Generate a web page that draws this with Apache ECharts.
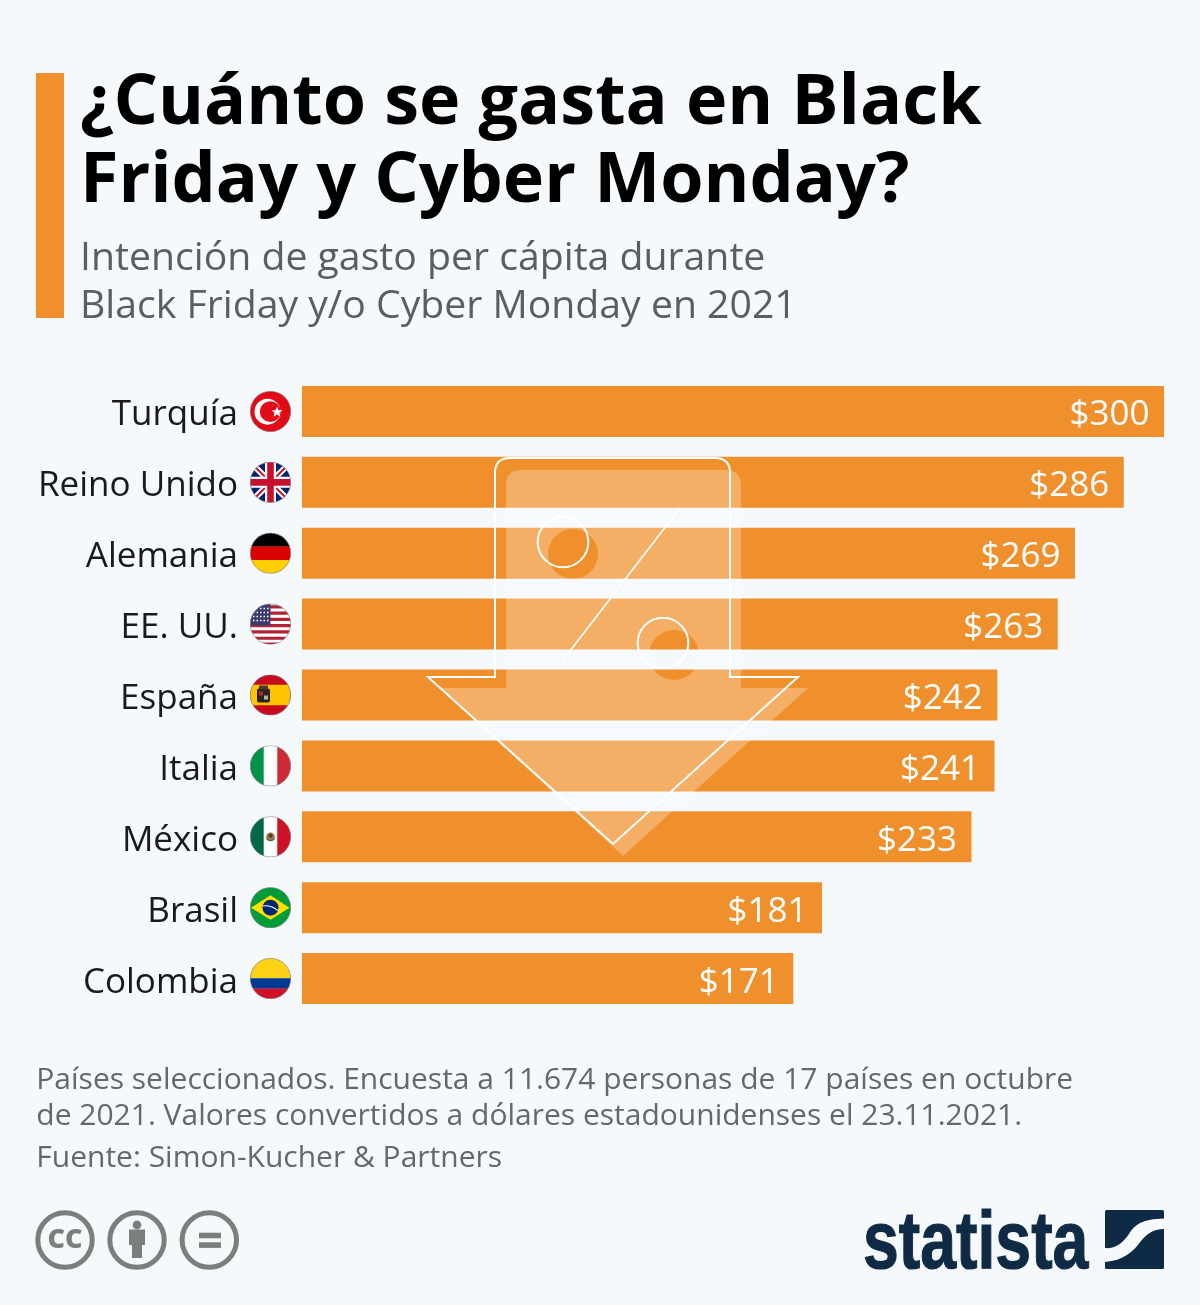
<!DOCTYPE html>
<html>
<head>
<meta charset="utf-8">
<style>
  html, body { margin: 0; padding: 0; background: #f5f9fc; }
  #chart { width: 1200px; height: 1305px; }
</style>
<script src="https://cdn.jsdelivr.net/npm/echarts@6/dist/echarts.min.js"></script>
</head>
<body>
<div id="chart"></div>
<script>
var countries = ['Turquía', 'Reino Unido', 'Alemania', 'EE. UU.', 'España', 'Italia', 'México', 'Brasil', 'Colombia'];
var spend = [300, 286, 269, 263, 242, 241, 233, 181, 171];
var flagKeys = ['tr', 'uk', 'de', 'us', 'es', 'it', 'mx', 'br', 'co'];

var titleText = '¿Cuánto se gasta en Black\nFriday y Cyber Monday?';
var subtitleText = 'Intención de gasto per cápita durante\nBlack Friday y/o Cyber Monday en 2021';
var noteLines = [
  'Países seleccionados. Encuesta a 11.674 personas de 17 países en octubre',
  'de 2021. Valores convertidos a dólares estadounidenses el 23.11.2021.'
];
var sourceText = 'Fuente: Simon-Kucher & Partners';

var ORANGE = '#f0902c';
var BG = '#f5f9fc';
var FONT = '"Open Sans", "Noto Sans", sans-serif';
var GREY = '#7a7f7c';

function svgUrl(w, h, body) {
  var svg = '<svg xmlns="http://www.w3.org/2000/svg" width="' + w * 2 + '" height="' + h * 2 +
    '" viewBox="0 0 ' + w + ' ' + h + '">' + body + '</svg>';
  return 'data:image/svg+xml;charset=utf-8,' + encodeURIComponent(svg);
}

// flags, drawn on a 41x41 box and clipped to a circle
var flagBodies = {
  tr: '<rect width="41" height="41" fill="#e30a17"/><circle cx="17.5" cy="20.7" r="13" fill="#fff"/><circle cx="20.3" cy="20.7" r="10.4" fill="#e30a17"/>' +
      '<polygon fill="#fff" points="27,15.5 28.5,19.2 32.5,19.4 29.4,21.9 30.4,25.8 27,23.6 23.6,25.8 24.6,21.9 21.5,19.4 25.5,19.2"/>',
  uk: '<rect width="41" height="41" fill="#012169"/><path d="M0 0L41 41M41 0L0 41" stroke="#fff" stroke-width="6"/>' +
      '<path d="M0 0L41 41M41 0L0 41" stroke="#c8102e" stroke-width="2"/>' +
      '<path d="M20.5 0V41M0 20.5H41" stroke="#fff" stroke-width="11"/><path d="M20.5 0V41M0 20.5H41" stroke="#c8102e" stroke-width="6.6"/>',
  de: '<rect width="41" height="14" fill="#000"/><rect y="13.7" width="41" height="13.7" fill="#dd0000"/><rect y="27.3" width="41" height="13.7" fill="#ffce00"/>',
  us: '<rect width="41" height="41" fill="#fff"/>' +
      '<path d="M0 3.2H41M0 9.5H41M0 15.8H41M0 22H41M0 28.3H41M0 34.6H41M0 40.5H41" stroke="#b22234" stroke-width="3.15"/>' +
      '<rect width="20.5" height="22" fill="#3c3b6e"/>' +
      '<path d="M3 5H20M3 9H20M3 13H20M3 17H20" stroke="#fff" stroke-width="1.5" stroke-dasharray="1.5 2"/>',
  es: '<rect width="41" height="41" fill="#c60b1e"/><rect y="10.2" width="41" height="20.6" fill="#ffc400"/>' +
      '<rect x="7" y="14" width="13" height="14" rx="2" fill="#2b2320"/><rect x="9" y="11" width="9" height="4" fill="#4a3a28"/>' +
      '<rect x="9" y="17" width="4" height="4" fill="#a8302a"/><rect x="14" y="21" width="4" height="4" fill="#b9b2a0"/>',
  it: '<rect width="14" height="41" fill="#009246"/><rect x="13.7" width="13.7" height="41" fill="#fff"/><rect x="27.3" width="13.7" height="41" fill="#ce2b37"/>',
  mx: '<rect width="14" height="41" fill="#006847"/><rect x="13.7" width="13.7" height="41" fill="#fff"/><rect x="27.3" width="13.7" height="41" fill="#ce1126"/>' +
      '<circle cx="20.5" cy="20.5" r="4.4" fill="#9a7a4a"/><circle cx="20.5" cy="19.5" r="2" fill="#5a3a1c"/><path d="M16.5 22.5Q20.5 26 24.5 22.5" stroke="#3f7a4a" stroke-width="1.2" fill="none"/>',
  br: '<rect width="41" height="41" fill="#009c3b"/><polygon points="20.5,8 39.5,20.5 20.5,32.5 1,20.5" fill="#ffdf00"/>' +
      '<circle cx="20.5" cy="20.5" r="8" fill="#002776"/><path d="M12.8 18.8Q21 17.5 28 23.5" stroke="#fff" stroke-width="1.1" fill="none"/>',
  co: '<rect width="41" height="20.5" fill="#fcd116"/><rect y="20.3" width="41" height="10.4" fill="#003893"/><rect y="30.5" width="41" height="10.5" fill="#ce1126"/>'
};

function flagUrl(key) {
  return svgUrl(41, 41,
    '<defs><clipPath id="c"><circle cx="20.5" cy="20.5" r="20.3"/></clipPath></defs>' +
    '<g clip-path="url(#c)">' + flagBodies[key] + '</g>' +
    '<circle cx="20.5" cy="20.5" r="20.2" fill="none" stroke="#8a8a8a" stroke-width="0.7"/>');
}

var labelRich = { name: { fontFamily: FONT, fontSize: 35, color: '#1a1a1a', padding: [8, 12, 0, 0] } };
flagKeys.forEach(function (k) {
  labelRich[k] = { width: 41, height: 41, backgroundColor: { image: flagUrl(k) } };
});

// arrow with the percent sign, the two dots are holes in the fill
var arrowUrl = svgUrl(400, 410,
  '<path fill="#fff" fill-opacity="0.27" fill-rule="evenodd" d="M101 20H305Q321 20 321 36V238H388L203 406L19 238H86V36Q86 20 101 20Z' +
  'M128 104a25 25 0 1 0 50 0a25 25 0 1 0 -50 0ZM229 205a25 25 0 1 0 50 0a25 25 0 1 0 -50 0Z"/>' +
  '<path fill="none" stroke="#fff" stroke-width="2" d="M90 8H295Q310 8 310 23V227H378L193 394L8 227H75V23Q75 8 90 8Z"/>' +
  '<circle cx="143" cy="92" r="25.3" fill="none" stroke="#fff" stroke-width="2"/>' +
  '<circle cx="243" cy="193" r="25.3" fill="none" stroke="#fff" stroke-width="2"/>' +
  '<path d="M260 58L143 210" stroke="#fff" stroke-width="1.7"/>');

var logoUrl = svgUrl(59, 59,
  '<rect width="59" height="59" rx="1.5" fill="#0f2a44"/>' +
  '<path d="M-1 38C10 39 17 34 24 24C30 14 38 9 60 8.5V19C48 19 42 24 36 31C28 42 18 51 -1 52Z" fill="#f5f9fc"/>');

function noteText(text, y) {
  return {
    type: 'text', x: 36.3, y: y, silent: true,
    style: { text: text, font: '30px ' + FONT, fill: '#62696d', verticalAlign: 'middle' }
  };
}

function ring(cx) {
  return {
    type: 'circle', silent: true,
    shape: { cx: cx, cy: 1240, r: 27.2 },
    style: { fill: 'none', stroke: GREY, lineWidth: 5 }
  };
}

var chart = echarts.init(document.getElementById('chart'));

var option = {
  backgroundColor: BG,
  animation: false,
  title: {
    left: 75, top: 60,
    text: titleText,
    textStyle: { fontFamily: FONT, fontWeight: 700, fontSize: 70, lineHeight: 78, color: '#000' },
    subtext: subtitleText,
    subtextStyle: { fontFamily: FONT, fontSize: 39.2, lineHeight: 48, color: '#585f63' },
    itemGap: 14
  },
  grid: { left: 302, top: 376, width: 862, height: 638 },
  xAxis: { type: 'value', min: 0, max: 300, show: false },
  yAxis: {
    type: 'category',
    inverse: true,
    data: countries,
    axisLine: { show: false },
    axisTick: { show: false },
    axisLabel: {
      margin: 11,
      rich: labelRich,
      formatter: function (value, i) {
        return '{name|' + value + '}{' + flagKeys[i] + '|}';
      }
    }
  },
  series: [{
    type: 'bar',
    data: spend,
    barWidth: 51,
    itemStyle: { color: ORANGE },
    label: {
      show: true,
      position: 'insideRight',
      distance: 14.5,
      offset: [0, 4],
      fontFamily: FONT,
      fontSize: 35,
      color: '#fff',
      formatter: function (p) { return '$' + p.value; }
    }
  }],
  graphic: { elements: [
    { type: 'rect', silent: true, shape: { x: 36, y: 73, width: 28, height: 245 }, style: { fill: ORANGE } },
    { type: 'image', silent: true, z: 50, x: 420, y: 450, style: { image: arrowUrl, x: 0, y: 0, width: 400, height: 410 } },
    noteText(noteLines[0], 1080.5),
    noteText(noteLines[1], 1116.5),
    noteText(sourceText, 1158.5),
    ring(65), ring(137), ring(209.3),
    { type: 'text', silent: true, x: 65, y: 1240, style: { text: 'CC', font: '800 27px ' + FONT, fill: GREY, align: 'center', verticalAlign: 'middle' } },
    { type: 'circle', silent: true, shape: { cx: 137, cy: 1225, r: 4.4 }, style: { fill: GREY } },
    { type: 'polygon', silent: true, shape: { points: [[129, 1229.5], [145, 1229.5], [145, 1245], [142, 1245], [142, 1258], [132, 1258], [132, 1245], [129, 1245]] }, style: { fill: GREY } },
    { type: 'rect', silent: true, shape: { x: 199, y: 1232.7, width: 22, height: 5.6 }, style: { fill: GREY } },
    { type: 'rect', silent: true, shape: { x: 199, y: 1242.3, width: 22, height: 5.6 }, style: { fill: GREY } },
    { type: 'text', silent: true, x: 863, y: 1245, scaleX: 0.785, style: { text: 'statista', font: '700 82px "Liberation Sans", sans-serif', fill: '#0f2a44', stroke: '#0f2a44', lineWidth: 1.2, verticalAlign: 'middle' } },
    { type: 'image', silent: true, x: 1105, y: 1210, style: { image: logoUrl, x: 0, y: 0, width: 59, height: 59 } }
  ] }
};

chart.setOption(option);
</script>
</body>
</html>
